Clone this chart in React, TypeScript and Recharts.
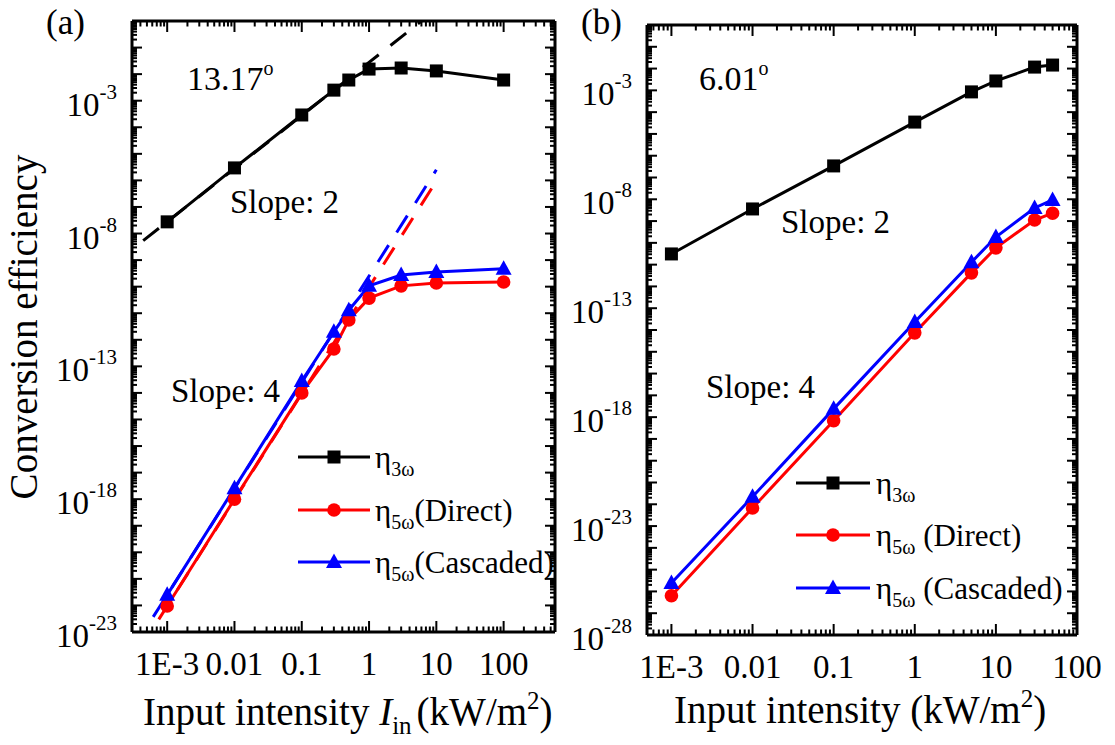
import React from 'react';
import { LineChart, Line, XAxis, YAxis, Legend } from 'recharts';

const FONT = '"Liberation Serif", "DejaVu Serif", "Noto Serif", "Times New Roman", Times, serif';

// ---------- Panel (a) data ----------
const intensityA = [0.001, 0.01, 0.1, 0.3, 0.5, 1, 3, 10, 100];
const eta3A = [2.75e-8, 2.95e-6, 2.9e-4, 2.5e-3, 6.0e-3, 1.55e-2, 1.7e-2, 1.32e-2, 6.0e-3];
const eta5DirectA = [9.5e-23, 1.0e-18, 1.0e-14, 4.5e-13, 5.6e-12, 3.7e-11, 1.07e-10, 1.38e-10, 1.5e-10];
const eta5CascA = [2.5e-22, 2.6e-18, 2.8e-14, 2.0e-12, 1.3e-11, 1.07e-10, 2.75e-10, 3.55e-10, 4.7e-10];
// slope guide lines (a)
const fit2A_x = [4.4e-4, 7];
const fit2A_y = [5.4e-9, 1.35];
const fit4DirectA_x = [7.5e-4, 10];
const fit4DirectA_y = [3.0e-23, 9.5e-7];
const fit4CascA_x = [6.2e-4, 10];
const fit4CascA_y = [3.7e-23, 2.5e-6];

// ---------- Panel (b) data ----------
const intensityB = [0.001, 0.01, 0.1, 1, 5, 10, 30, 50];
const eta3B = [3.1e-11, 3.6e-9, 3.4e-7, 3.5e-5, 8.5e-4, 2.7e-3, 1.17e-2, 1.45e-2];
const eta5DirectB = [6.3e-27, 6.8e-23, 6.8e-19, 7.4e-15, 4.2e-12, 5.9e-11, 1.12e-9, 2.3e-9];
const eta5CascB = [2.45e-26, 2.2e-22, 2.4e-18, 2.35e-14, 1.3e-11, 1.85e-10, 4.0e-9, 9.3e-9];

// ---------- ticks ----------
const xMajorTicks = [1e-3, 1e-2, 1e-1, 1, 10, 100];
const xTickLabels = ['1E-3', '0.01', '0.1', '1', '10', '100'];
const yLabelExpA = [-3, -8, -13, -18, -23];
const yLabelExpB = [-3, -8, -13, -18, -23, -28];

const zip = (xs: number[], ys: number[]) => xs.map((x, i) => ({ x, y: ys[i] }));

function logTicks(min: number, max: number) {
  const out: number[] = [];
  const n0 = Math.floor(Math.log10(min));
  const n1 = Math.ceil(Math.log10(max));
  for (let n = n0; n <= n1; n++) {
    for (let k = 1; k <= 9; k++) {
      const v = Number(`${k}e${n}`);
      if (v >= min * (1 - 1e-9) && v <= max * (1 + 1e-9)) out.push(v);
    }
  }
  return out;
}

const isMajor = (v: number) => {
  const e = Math.log10(v);
  return Math.abs(e - Math.round(e)) < 1e-6;
};

const Square = (props: any) => {
  const { cx, cy } = props;
  if (cx == null || cy == null) return <g />;
  return <rect x={cx - 6.5} y={cy - 6.5} width={13} height={13} fill="#000" />;
};
const Circ = (props: any) => {
  const { cx, cy } = props;
  if (cx == null || cy == null) return <g />;
  return <circle cx={cx} cy={cy} r={6.8} fill="#ff0000" />;
};
const Tri = (props: any) => {
  const { cx, cy } = props;
  if (cx == null || cy == null) return <g />;
  return <polygon points={`${cx},${cy - 8.5} ${cx - 8},${cy + 6} ${cx + 8},${cy + 6}`} fill="#0000ff" />;
};

type LegendCfg = {
  left: number;
  top: number;
  rows: number[];
  lineX0: number;
  lineX1: number;
  textX: number;
  spaced: boolean;
};

type PanelCfg = {
  width: number;
  height: number;
  margin: { top: number; right: number; bottom: number; left: number };
  xDomain: [number, number];
  yDomain: [number, number];
  yLabelExps: number[];
  x: number[];
  e3: number[];
  e5d: number[];
  e5c: number[];
  fits: { x: number[]; y: number[]; color: string }[];
  legend: LegendCfg;
};

const legendItems = [
  { color: '#000000', sub: '3\u03c9', after: '', marker: 'sq' },
  { color: '#ff0000', sub: '5\u03c9', after: '(Direct)', marker: 'ci' },
  { color: '#0000ff', sub: '5\u03c9', after: '(Cascaded)', marker: 'tr' },
];

function makeLegend(cfg: LegendCfg) {
  return () => {
    const mx = (cfg.lineX0 + cfg.lineX1) / 2;
    return (
      <svg width={280} height={170} style={{ display: 'block', overflow: 'visible' }}>
        {legendItems.map((it, i) => {
          const y = cfg.rows[i];
          return (
            <g key={i}>
              <line x1={cfg.lineX0} x2={cfg.lineX1} y1={y} y2={y} stroke={it.color} strokeWidth={3} />
              {it.marker === 'sq' && <Square cx={mx} cy={y} />}
              {it.marker === 'ci' && <Circ cx={mx} cy={y} />}
              {it.marker === 'tr' && <Tri cx={mx} cy={y} />}
              <text x={cfg.textX} y={y + 11} fontSize={31} fontFamily={FONT} fill="#000">
                {'\u03b7'}
                <tspan fontSize={20} dy={8}>{it.sub}</tspan>
                <tspan dy={-8}>{(cfg.spaced && it.after ? ' ' : '') + it.after}</tspan>
              </text>
            </g>
          );
        })}
      </svg>
    );
  };
}

function Panel(p: PanelCfg) {
  const xTicks = logTicks(p.xDomain[0], p.xDomain[1]);
  const yTicks = logTicks(p.yDomain[0], p.yDomain[1]);
  const axisLine = { stroke: '#000', strokeWidth: 3 };

  const labelForX = (v: number) => {
    const i = xMajorTicks.findIndex((m) => Math.abs(Math.log10(m) - Math.log10(v)) < 1e-6);
    return i >= 0 ? xTickLabels[i] : null;
  };

  const bottomTick = (t: any) => {
    const v = t.payload.value;
    const major = isMajor(v);
    const lab = major ? labelForX(v) : null;
    return (
      <g>
        <line x1={t.x} x2={t.x} y1={t.y} y2={t.y - (major ? 11 : 5.5)} stroke="#000" strokeWidth={2} />
        {lab && (
          <text x={t.x} y={t.y + 43} textAnchor="middle" fontSize={33} fontFamily={FONT} fill="#000">
            {lab}
          </text>
        )}
      </g>
    );
  };
  const topTick = (t: any) => {
    const major = isMajor(t.payload.value);
    return <line x1={t.x} x2={t.x} y1={t.y} y2={t.y + (major ? 11 : 5.5)} stroke="#000" strokeWidth={2} />;
  };
  const leftTick = (t: any) => {
    const v = t.payload.value;
    const major = isMajor(v);
    const e = Math.round(Math.log10(v));
    const lab = major && p.yLabelExps.includes(e);
    return (
      <g>
        <line x1={t.x} x2={t.x + (major ? 10 : 5)} y1={t.y} y2={t.y} stroke="#000" strokeWidth={2} />
        {lab && (
          <text x={t.x - 15} y={t.y + 15} textAnchor="end" fontSize={33} fontFamily={FONT} fill="#000">
            10
            <tspan fontSize={21} dy={-17}>{`-${Math.abs(e)}`}</tspan>
          </text>
        )}
      </g>
    );
  };
  const rightTick = (t: any) => {
    const major = isMajor(t.payload.value);
    return <line x1={t.x} x2={t.x - (major ? 10 : 5)} y1={t.y} y2={t.y} stroke="#000" strokeWidth={2} />;
  };

  const common = {
    type: 'number' as const,
    scale: 'log' as const,
    allowDataOverflow: true,
    interval: 0 as const,
    tickLine: false,
    tickSize: 0,
    tickMargin: 0,
    axisLine,
  };

  return (
    <LineChart width={p.width} height={p.height} margin={p.margin}>
      <XAxis xAxisId="b" orientation="bottom" dataKey="x" domain={p.xDomain} ticks={xTicks} height={1} tick={bottomTick} {...common} />
      <XAxis xAxisId="t" orientation="top" dataKey="x" domain={p.xDomain} ticks={xTicks} height={1} tick={topTick} {...common} />
      <YAxis yAxisId="l" orientation="left" dataKey="y" domain={p.yDomain} ticks={yTicks} width={1} tick={leftTick} {...common} />
      <YAxis yAxisId="r" orientation="right" dataKey="y" domain={p.yDomain} ticks={yTicks} width={1} tick={rightTick} {...common} />
      {p.fits.map((f, i) => (
        <Line
          key={`fit${i}`}
          xAxisId="b"
          yAxisId="l"
          data={zip(f.x, f.y)}
          dataKey="y"
          type="linear"
          stroke={f.color}
          strokeWidth={3}
          strokeDasharray="20 15"
          dot={false}
          activeDot={false}
          isAnimationActive={false}
          legendType="none"
        />
      ))}
      <Line xAxisId="b" yAxisId="l" data={zip(p.x, p.e3)} dataKey="y" name="eta3" type="linear" stroke="#000" strokeWidth={3} dot={Square} activeDot={false} isAnimationActive={false} />
      <Line xAxisId="b" yAxisId="l" data={zip(p.x, p.e5d)} dataKey="y" name="eta5 direct" type="linear" stroke="#ff0000" strokeWidth={3} dot={Circ} activeDot={false} isAnimationActive={false} />
      <Line xAxisId="b" yAxisId="l" data={zip(p.x, p.e5c)} dataKey="y" name="eta5 cascaded" type="linear" stroke="#0000ff" strokeWidth={3} dot={Tri} activeDot={false} isAnimationActive={false} />
      <Legend
        layout="horizontal"
        verticalAlign="middle"
        align="center"
        content={makeLegend(p.legend)}
        wrapperStyle={{ left: p.legend.left, top: p.legend.top, width: 280, height: 170 }}
      />
    </LineChart>
  );
}

const panelA: PanelCfg = {
  width: 560,
  height: 745,
  margin: { top: 20, right: 4, bottom: 112, left: 131 },
  xDomain: [3e-4, 580],
  yDomain: [1e-23, 1],
  yLabelExps: yLabelExpA,
  x: intensityA,
  e3: eta3A,
  e5d: eta5DirectA,
  e5c: eta5CascA,
  fits: [
    { x: fit2A_x, y: fit2A_y, color: '#000000' },
    { x: fit4DirectA_x, y: fit4DirectA_y, color: '#ff0000' },
    { x: fit4CascA_x, y: fit4CascA_y, color: '#0000ff' },
  ],
  legend: { left: 288, top: 425, rows: [32, 85, 137], lineX0: 10, lineX1: 82, textX: 87, spaced: false },
};

const panelB: PanelCfg = {
  width: 555,
  height: 745,
  margin: { top: 24, right: 37, bottom: 109, left: 86 },
  xDomain: [5e-4, 100],
  yDomain: [1e-28, 1],
  yLabelExps: yLabelExpB,
  x: intensityB,
  e3: eta3B,
  e5d: eta5DirectB,
  e5c: eta5CascB,
  fits: [],
  legend: { left: 226, top: 451, rows: [32, 84, 137], lineX0: 10, lineX1: 84, textX: 90, spaced: true },
};

export default function App() {
  return (
    <div
      style={{
        position: 'absolute',
        left: 0,
        top: 0,
        width: 1115,
        height: 745,
        background: '#fff',
        overflow: 'hidden',
        fontFamily: FONT,
      }}
    >
      <div style={{ position: 'absolute', left: 0, top: 0 }}>
        <Panel {...panelA} />
      </div>
      <div style={{ position: 'absolute', left: 560, top: 0 }}>
        <Panel {...panelB} />
      </div>
      <svg
        width={1115}
        height={745}
        style={{ position: 'absolute', left: 0, top: 0, pointerEvents: 'none' }}
        fontFamily={FONT}
        fill="#000"
      >
        <text x={46} y={34} fontSize={35}>(a)</text>
        <text x={187} y={90} fontSize={34}>
          13.17<tspan fontSize={20} dy={-15}>o</tspan>
        </text>
        <text x={230} y={213} fontSize={33}>Slope: 2</text>
        <text x={171} y={402} fontSize={33}>Slope: 4</text>

        <text x={581} y={34} fontSize={35}>(b)</text>
        <text x={699} y={90} fontSize={34}>
          6.01<tspan fontSize={20} dy={-15}>o</tspan>
        </text>
        <text x={781} y={233} fontSize={33}>Slope: 2</text>
        <text x={706} y={398} fontSize={33}>Slope: 4</text>

        <text transform="translate(37,327) rotate(-90)" textAnchor="middle" fontSize={39}>
          Conversion efficiency
        </text>

        <text x={143} y={725} fontSize={39}>
          {'Input intensity '}
          <tspan fontStyle="italic">I</tspan>
          <tspan fontSize={25} dy={9}>in</tspan>
          <tspan dy={-9} dx={5}>(kW/m</tspan>
          <tspan fontSize={25} dy={-16}>2</tspan>
          <tspan dy={16}>)</tspan>
        </text>
        <text x={674} y={723} fontSize={39}>
          {'Input intensity (kW/m'}
          <tspan fontSize={25} dy={-16}>2</tspan>
          <tspan dy={16}>)</tspan>
        </text>
      </svg>
    </div>
  );
}
